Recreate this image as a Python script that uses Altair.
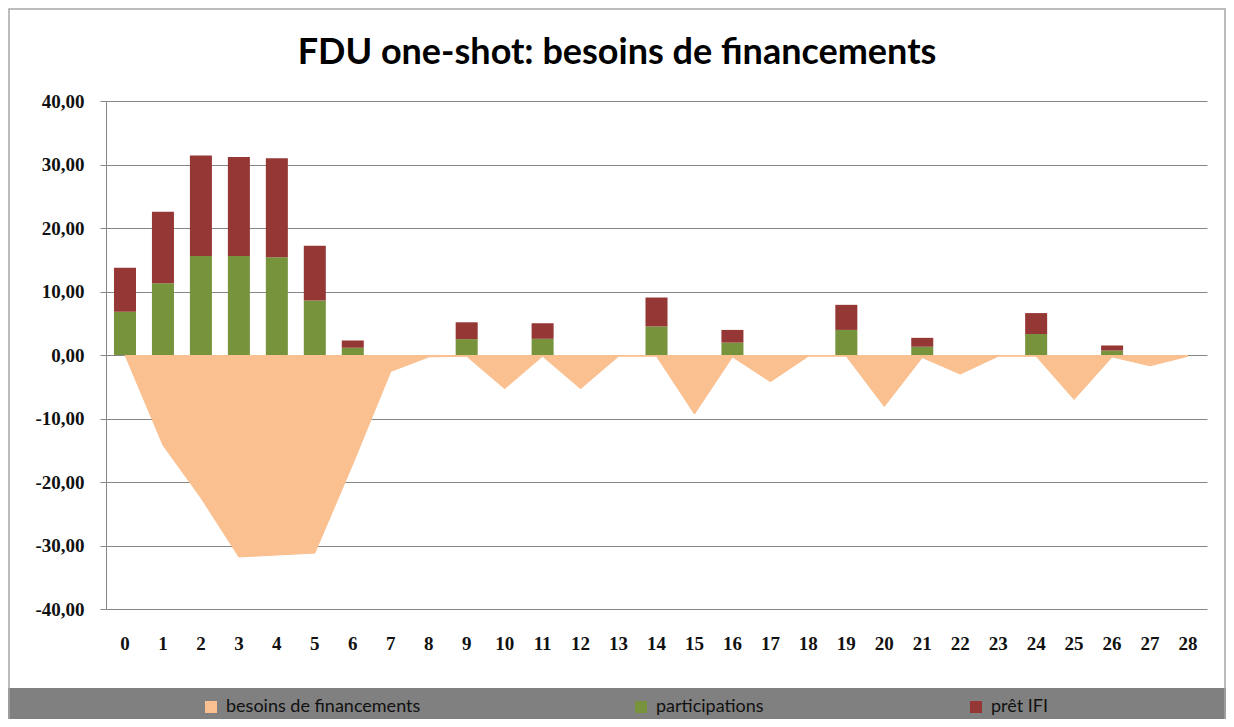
import altair as alt
import pandas as pd

periods = list(range(29))
participations = [6.8, 11.3, 15.6, 15.6, 15.4, 8.6, 1.15, 0, 0, 2.5, 0, 2.55, 0, 0, 4.5,
                  0, 1.95, 0, 0, 3.95, 0, 1.3, 0, 0, 3.3, 0, 0.7, 0, 0]
pret_ifi = [6.95, 11.25, 15.8, 15.6, 15.6, 8.6, 1.15, 0, 0, 2.65, 0, 2.45, 0, 0, 4.55,
            0, 2.0, 0, 0, 3.95, 0, 1.4, 0, 0, 3.3, 0, 0.8, 0, 0]
besoins = [0, -14.2, -22.5, -31.8, -31.5, -31.2, -17.2, -2.6, -0.3, -0.2, -5.3, -0.2, -5.3, -0.2, -0.2,
           -9.3, -0.3, -4.2, -0.2, -0.2, -8.1, -0.4, -3.0, -0.2, -0.2, -7.0, -0.3, -1.7, -0.2]

series_names = ["besoins de financements", "participations", "prêt IFI"]
series_colors = ["#FAC090", "#77933C", "#953735"]
y_ticks = [-40, -30, -20, -10, 0, 10, 20, 30, 40]
title_text = "FDU one-shot: besoins de financements"

df = pd.DataFrame({"periode": periods, "participations": participations,
                   "pret": pret_ifi, "besoins": besoins})
df["total"] = df["participations"] + df["pret"]

W, H = 1101, 508
PAD = {"left": 98, "top": 93, "right": 19, "bottom": 110}

grid_col = "#868686"
label_font = "Liberation Serif"

x_axis = alt.Axis(labelAngle=0, ticks=False, tickSize=0, domain=False, grid=False,
                  labelFont=label_font, labelFontWeight="bold", labelFontSize=19,
                  labelColor="#111111", labelPadding=25)
x_scale = alt.Scale(type="band", paddingInner=0.42, paddingOuter=0.21)
x_enc = alt.X("periode:O", scale=x_scale, axis=x_axis, title=None)
x_area = alt.X("periode:O", bandPosition=0.5, scale=x_scale, axis=x_axis, title=None)

y_axis = alt.Axis(
    values=y_ticks,
    labelExpr="(datum.value < 0 ? '-' : '') + replace(format(abs(datum.value), '.2f'), '.', ',')",
    labelFont=label_font, labelFontWeight="bold", labelFontSize=19, labelColor="#111111",
    tickSize=6, tickColor=grid_col, domainColor=grid_col, gridColor=grid_col,
    labelPadding=16, grid=True, title=None,
)
y_scale = alt.Scale(domain=[-40, 40], nice=False)


def legend_for(x0):
    return alt.Legend(orient="none", legendX=x0, legendY=597, title=None,
                      symbolType="square", symbolSize=144, symbolStrokeWidth=0,
                      labelFont="Lato", labelFontSize=18, labelColor="#111111",
                      labelOffset=6, labelLimit=500, padding=0, zindex=1)


base = alt.Chart(df)
one = alt.Data(values=[{"t": title_text}])

frame = alt.Chart(one).mark_rect(
    fillOpacity=0, stroke="#A6A6A6", strokeWidth=1.5
).encode(x=alt.value(-97), x2=alt.value(1119), y=alt.value(-92), y2=alt.value(640))

band = alt.Chart(one).mark_rect(fill="#808080").encode(
    x=alt.value(-98), x2=alt.value(1120), y=alt.value(587), y2=alt.value(640))

title = alt.Chart(one).mark_text(
    font="Lato", fontSize=36, fontWeight="bold", color="#000000",
    align="center", baseline="alphabetic"
).encode(text="t:N", x=alt.value(511), y=alt.value(-37))

area = base.transform_calculate(serie=f"'{series_names[0]}'").mark_area(
    line={"color": "#F5A765", "strokeWidth": 1}, opacity=1
).encode(
    x=x_area,
    y=alt.Y("besoins:Q", scale=y_scale, axis=y_axis),
    color=alt.Color("serie:N", scale=alt.Scale(domain=[series_names[0]], range=[series_colors[0]]),
                    legend=legend_for(96)),
)

bar_p = base.transform_calculate(serie=f"'{series_names[1]}'").mark_bar().encode(
    x=x_enc,
    y=alt.Y("participations:Q", scale=y_scale, axis=y_axis),
    color=alt.Color("serie:N", scale=alt.Scale(domain=[series_names[1]], range=[series_colors[1]]),
                    legend=legend_for(526)),
)

bar_r = base.transform_calculate(serie=f"'{series_names[2]}'").mark_bar().encode(
    x=x_enc,
    y=alt.Y("participations:Q", scale=y_scale, axis=y_axis),
    y2="total:Q",
    color=alt.Color("serie:N", scale=alt.Scale(domain=[series_names[2]], range=[series_colors[2]]),
                    legend=legend_for(861)),
)

chart = alt.layer(band, frame, title, area, bar_p, bar_r).resolve_scale(color="independent").properties(
    width=W, height=H,
    autosize=alt.AutoSizeParams(type="none"),
    padding=PAD,
    background="white",
).configure_view(strokeWidth=0)

chart.save("out.html", embed_options={"renderer": "svg", "actions": False})
